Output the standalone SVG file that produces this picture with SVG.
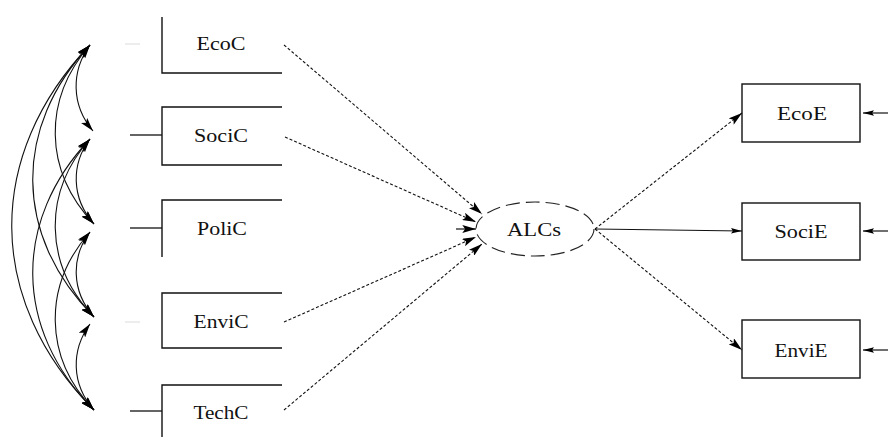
<svg xmlns="http://www.w3.org/2000/svg" width="888" height="437" viewBox="0 0 888 437">
<defs>
<marker id="ah" viewBox="0 0 12 7" refX="12" refY="3.5" markerWidth="14" markerHeight="8" orient="auto-start-reverse" markerUnits="userSpaceOnUse"><path d="M0,0 L12,3.5 L0,7 L2.5,3.5 z" fill="#000"/></marker>
<marker id="ahs" viewBox="0 0 12 6" refX="12" refY="3" markerWidth="11" markerHeight="5.5" orient="auto" markerUnits="userSpaceOnUse"><path d="M0,0 L12,3 L0,6 L2,3 z" fill="#000"/></marker>
</defs>
<style>
.box{fill:none;stroke:#111;stroke-width:1.4}
.lbl{font-family:"Liberation Serif","Times New Roman",serif;font-size:18.5px;fill:#111;text-anchor:middle}
.dash{fill:none;stroke:#111;stroke-width:1.1;stroke-dasharray:3,2}
.sol{fill:none;stroke:#111;stroke-width:1.2}
.cov{fill:none;stroke:#111;stroke-width:1.1}
.stub{stroke:#111;stroke-width:1.3}
.faint{stroke:#e4e4e4;stroke-width:1.3}
</style>
<rect width="888" height="437" fill="#fff"/>

<g id="EcoC">
<path class="box" d="M282,73 H162 V17"/>
<line class="faint" x1="125" y1="44" x2="140" y2="44"/>
<text class="lbl" x="221" y="50" textLength="49" lengthAdjust="spacingAndGlyphs">EcoC</text>
</g>
<g id="SociC">
<path class="box" d="M282,107 H162 V165 H282"/>
<line class="stub" x1="130" y1="135" x2="162" y2="135"/>
<text class="lbl" x="221" y="142" textLength="54" lengthAdjust="spacingAndGlyphs">SociC</text>
</g>
<g id="PoliC">
<path class="box" d="M282,200 H162 V257"/>
<line class="stub" x1="130" y1="228" x2="162" y2="228"/>
<text class="lbl" x="222" y="235" textLength="50" lengthAdjust="spacingAndGlyphs">PoliC</text>
</g>
<g id="EnviC">
<path class="box" d="M282,293 H162 V348 H282"/>
<line class="faint" x1="125" y1="322" x2="140" y2="322"/>
<text class="lbl" x="221" y="328" textLength="55" lengthAdjust="spacingAndGlyphs">EnviC</text>
</g>
<g id="TechC">
<path class="box" d="M282,385 H162 V437"/>
<line class="stub" x1="130" y1="411" x2="162" y2="411"/>
<text class="lbl" x="221" y="419" textLength="55" lengthAdjust="spacingAndGlyphs">TechC</text>
</g>

<g id="ALCs">
<ellipse cx="535" cy="229" rx="59" ry="27" fill="none" stroke="#222" stroke-width="1.1" stroke-dasharray="14,6"/>
<text class="lbl" x="534" y="236" textLength="54" lengthAdjust="spacingAndGlyphs">ALCs</text>
</g>

<g id="EcoE">
<rect class="box" x="742" y="84" width="118" height="58"/>
<text class="lbl" x="802" y="120" textLength="50" lengthAdjust="spacingAndGlyphs">EcoE</text>
</g>
<g id="SociE">
<rect class="box" x="742" y="203" width="118" height="57"/>
<text class="lbl" x="801" y="238" textLength="53" lengthAdjust="spacingAndGlyphs">SociE</text>
</g>
<g id="EnviE">
<rect class="box" x="742" y="320" width="118" height="58"/>
<text class="lbl" x="801" y="357" textLength="53" lengthAdjust="spacingAndGlyphs">EnviE</text>
</g>

<g id="connectors">
<line class="dash" x1="284" y1="45" x2="482" y2="214" marker-end="url(#ah)"/>
<line class="dash" x1="285" y1="137" x2="476" y2="222" marker-end="url(#ah)"/>
<line class="sol" x1="456" y1="229" x2="476" y2="229" marker-end="url(#ah)"/>
<line class="dash" x1="284" y1="322" x2="476" y2="237" marker-end="url(#ah)"/>
<line class="dash" x1="284" y1="410" x2="482" y2="244" marker-end="url(#ah)"/>

<line class="dash" x1="595" y1="229" x2="742" y2="113" marker-end="url(#ah)"/>
<line class="sol" x1="595" y1="229" x2="742" y2="231" marker-end="url(#ahs)"/>
<line class="dash" x1="595" y1="229" x2="742" y2="350" marker-end="url(#ah)"/>

<line class="sol" x1="888" y1="113" x2="863" y2="113" marker-end="url(#ahs)"/>
<line class="sol" x1="888" y1="231" x2="863" y2="231" marker-end="url(#ahs)"/>
<line class="sol" x1="888" y1="350" x2="863" y2="350" marker-end="url(#ahs)"/>

<path class="cov" d="M90,45 C71,71 71,105 93,131" marker-start="url(#ah)" marker-end="url(#ah)"/>
<path class="cov" d="M90,45 C43,99 43,170 94,224" marker-start="url(#ah)" marker-end="url(#ah)"/>
<path class="cov" d="M90,45 C13,127 13,235 94,317" marker-start="url(#ah)" marker-end="url(#ah)"/>
<path class="cov" d="M90,45 C-15,155 -15,300 94,410" marker-start="url(#ah)" marker-end="url(#ah)"/>
<path class="cov" d="M90,139 C71,164 71,198 94,224" marker-start="url(#ah)" marker-end="url(#ah)"/>
<path class="cov" d="M90,139 C43,192 43,264 94,317" marker-start="url(#ah)" marker-end="url(#ah)"/>
<path class="cov" d="M90,139 C13,220 13,329 94,410" marker-start="url(#ah)" marker-end="url(#ah)"/>
<path class="cov" d="M90,232 C71,257 71,291 94,317" marker-start="url(#ah)" marker-end="url(#ah)"/>
<path class="cov" d="M90,232 C43,285 43,357 94,410" marker-start="url(#ah)" marker-end="url(#ah)"/>
<path class="cov" d="M90,324 C71,350 71,384 94,410" marker-start="url(#ah)" marker-end="url(#ah)"/>
</g>
</svg>
